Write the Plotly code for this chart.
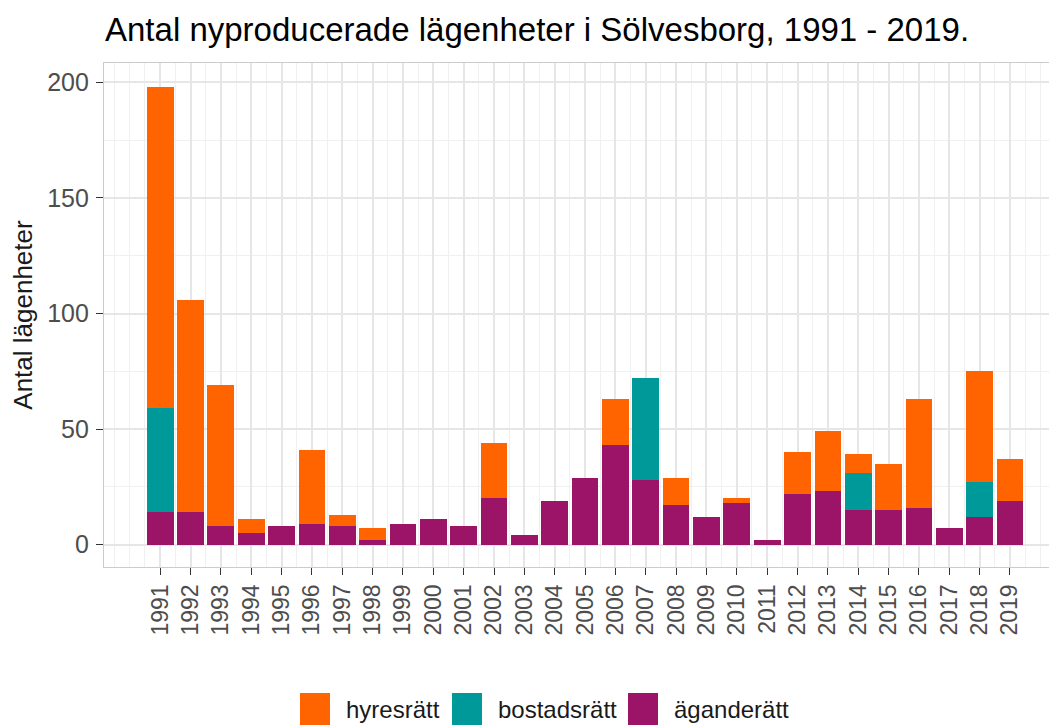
import plotly.graph_objects as go

years = list(range(1991, 2020))
aganderatt = [14, 14, 8, 5, 8, 9, 8, 2, 9, 11, 8, 20, 4, 19, 29, 43, 28, 17, 12, 18, 2, 22, 23, 15, 15, 16, 7, 12, 19]
bostadsratt = [45, 0, 0, 0, 0, 0, 0, 0, 0, 0, 0, 0, 0, 0, 0, 0, 44, 0, 0, 0, 0, 0, 0, 16, 0, 0, 0, 15, 0]
hyresratt = [139, 92, 61, 6, 0, 32, 5, 5, 0, 0, 0, 24, 0, 0, 0, 20, 0, 12, 0, 2, 0, 18, 26, 8, 20, 47, 0, 48, 18]

series_names = ["äganderätt", "bostadsrätt", "hyresrätt"]
series_values = [aganderatt, bostadsratt, hyresratt]
series_colors = ["#9B1467", "#009999", "#FF6400"]
legend_order = ["hyresrätt", "bostadsrätt", "äganderätt"]

title_text = "Antal nyproducerade lägenheter i Sölvesborg, 1991 - 2019."
y_title = "Antal lägenheter"

FONT = "Liberation Sans, Arial, sans-serif"

fig = go.Figure()
for name, vals, col in zip(series_names, series_values, series_colors):
    fig.add_trace(go.Bar(x=years, y=vals, name=name, marker=dict(color=col, line=dict(width=0)),
                         width=0.88, showlegend=False))

# page has an 8px body margin, so the figure is sized to end at the window edge
OFF = 8
W, H = 1057 - OFF, 728 - OFF
L, T = 104 - OFF, 63 - OFF
B = H - (567 - OFF)
R = 0
pw, ph = W - L - R, H - T - B

# custom legend (large square keys, like ggplot)
col_of = dict(zip(series_names, series_colors))
key_x = [300 - OFF, 452 - OFF, 628 - OFF]
key_top, key_bot = 693 - OFF, 725 - OFF
for name, kx in zip(legend_order, key_x):
    fig.add_shape(type="rect", xref="paper", yref="paper",
                  x0=(kx - L) / pw, x1=(kx + 30 - L) / pw,
                  y0=-(key_bot - (T + ph)) / ph, y1=-(key_top - (T + ph)) / ph,
                  fillcolor=col_of[name], line=dict(width=0))
    fig.add_annotation(xref="paper", yref="paper", x=(kx + 44 - L) / pw,
                       y=-((key_top + key_bot) / 2 - (T + ph)) / ph,
                       xanchor="left", yanchor="middle", showarrow=False,
                       text=name, font=dict(family=FONT, size=24, color="#1A1A1A"))

fig.update_layout(
    width=W, height=H,
    margin=dict(l=L, r=R, t=T, b=B),
    barmode="stack",
    bargap=0,
    plot_bgcolor="white", paper_bgcolor="white",
    font=dict(family=FONT),
    title=dict(text=title_text, x=(105 - OFF) / W, xanchor="left", xref="container",
               y=1 - (29 - OFF) / H, yanchor="middle", yref="container",
               font=dict(family=FONT, size=33, color="#000000")),
    showlegend=False,
)
fig.update_xaxes(
    range=[1989.15, 2020.55],
    tickmode="array", tickvals=years, ticktext=[str(y) for y in years],
    tickangle=-90,
    tickfont=dict(family=FONT, size=23, color="#4D4D4D"),
    ticks="outside", ticklen=7, tickcolor="#333333", tickwidth=1,
    showgrid=True, gridcolor="#E6E6E6", gridwidth=1.5,
    minor=dict(dtick=0.5, tick0=1991, showgrid=True, gridcolor="#F0F0F0", gridwidth=1, ticks=""),
    showline=True, linecolor="#CCCCCC", linewidth=1.3, mirror=True,
    zeroline=False, fixedrange=True,
)
fig.update_yaxes(
    range=[-9.7, 208.4],
    tickmode="linear", tick0=0, dtick=50,
    tickfont=dict(family=FONT, size=25, color="#4D4D4D"),
    ticks="outside", ticklen=7, tickcolor="#333333", tickwidth=1,
    ticklabelstandoff=2,
    showgrid=True, gridcolor="#E6E6E6", gridwidth=1.5,
    minor=dict(dtick=25, tick0=0, showgrid=True, gridcolor="#F0F0F0", gridwidth=1, ticks=""),
    showline=True, linecolor="#CCCCCC", linewidth=1.3,
    zeroline=False,
    title=dict(text=y_title, standoff=11, font=dict(family=FONT, size=26, color="#1A1A1A")),
)

fig.write_html("out.html")
